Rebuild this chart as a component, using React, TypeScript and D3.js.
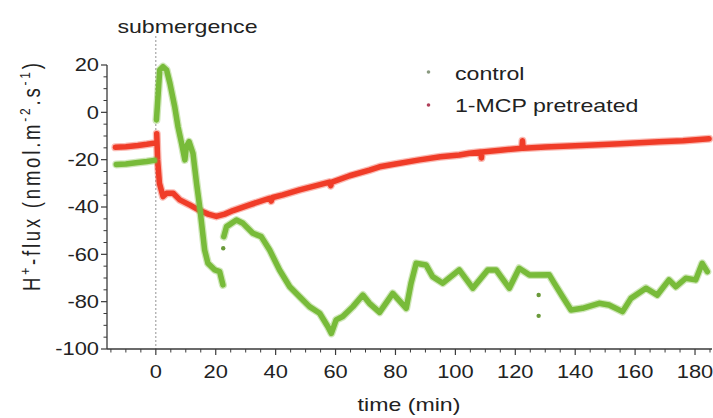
import React from "react";
import * as d3 from "d3";

// ---- data ----
const controlTime: number[] = [
  -13.2, -10, -6, -3, -0.5, NaN,
  0.2, 0.8, 1.3, 2.4, 3.6, 4.7, 6.3, 7.4, 8.6, 9.7, 10.2, 11.1, 12.4, 13.6, 14.7, 16.3, 17.4, 19.7, 21.3, 22.4, NaN,
  22.7, 23.6, 26.9, 29.1, 32.4, 35.2, 38, 41.3, 44.7, 48, 51.3, 54.7, 57.4, 58.6, 60.2, 62.4, 65.8, 69.1, 71.3, 74.7,
  79.1, 83.6, 85.2, 86.9, 90.2, 92.4, 95.8, 101.3, 105.8, 110.8, 113.6, 118, 121.3, 124.7, 131.3, 133, 135.8, 138.6,
  142.4, 148, 151.3, 155.8, 158.6, 163.6, 167.4, 171.3, 173.6, 176.9, 180.2, 182.4, 184.1,
];
const controlFlux: number[] = [
  -22, -21.8, -21.2, -20.8, -20.3, NaN,
  -3.2, 8, 17.9, 19.3, 17.9, 12.3, 2.4, -6.1, -13.1, -20.1, -14.5, -12.4, -17.3, -30, -40.5, -58.2, -63.8, -66.6, -67.3, -72.9, NaN,
  -52.5, -48.3, -45.5, -46.9, -51.1, -52.5, -58.2, -66.6, -73.7, -77.9, -82.1, -84.9, -90.5, -93.4, -87.7, -86.3, -82.1, -77.2, -80.7, -84.5,
  -76.5, -82.8, -72.2, -63.8, -64.5, -69.4, -72.2, -66.6, -74.3, -66.6, -66.6, -74.3, -65.9, -68.7, -68.6, -72.2, -77.9, -83.5,
  -82.8, -80.7, -81.4, -84.2, -78.6, -74.3, -77.2, -70.8, -73.7, -70.1, -70.8, -63.8, -67.3,
];
const controlOutlierTime: number[] = [22.5, 127.8, 127.8];
const controlOutlierFlux: number[] = [-57.4, -77.2, -86];

const mcpTime: number[] = [
  -13.5, -10, -6, -3, -0.5, NaN,
  0.3, 0.6, 1.2, 2.4, 3.6, 5.8, 8, 11.3, 14.7, 17.5, 20.2, 23, 25.8, 31.3, 38, 38.5, 39, 42.4, 48, 58, 58.4, 58.8,
  64.7, 71.3, 74.7, 80, 88, 95, 101.3, 104.7, 108.5, 108.7, 108.9, 115, 122.2, 122.4, 122.6, 130, 138, 145.8, 155,
  168, 176, 184.7,
];
const mcpFlux: number[] = [
  -14.8, -14.5, -14, -13.5, -13, NaN,
  -9, -20, -30, -35.6, -34.2, -34.2, -37, -39.1, -41.5, -43, -44, -43, -41.5, -39.1, -36.3, -37.5, -36, -34.9, -32.8, -29.5, -31, -29.5,
  -26.8, -24.4, -23, -21.8, -20.1, -18.8, -18, -17.3, -16.8, -19.3, -16.8, -16, -15.2, -12, -15.2, -14.6, -14.2, -13.8, -13.3,
  -12.4, -12, -11.2,
];

const xMajorTicks: number[] = [0, 20, 40, 60, 80, 100, 120, 140, 160, 180];
const yMajorTicks: number[] = [20, 0, -20, -40, -60, -80, -100];
const seriesNames: string[] = ["control", "1-MCP pretreated"];

const FONT = "'Liberation Sans', Arial, Helvetica, sans-serif";
const SX = 1.25;

export default function App() {
  const W = 713, H = 418;
  const x = d3.scaleLinear().domain([-16.3, 185]).range([107, 710]);
  const y = d3.scaleLinear().domain([-100, 20]).range([349, 65]);

  const mk = (ts: number[], vs: number[]) =>
    ts.map((t, i) => [t, vs[i]] as [number, number]);
  const line = d3
    .line<[number, number]>()
    .defined((d) => !isNaN(d[0]) && !isNaN(d[1]))
    .x((d) => x(d[0]))
    .y((d) => y(d[1]));

  const ctl = mk(controlTime, controlFlux);
  const mcp = mk(mcpTime, mcpFlux);
  const green = "#78bb3a";
  const red = "#f03c28";

  const xMinor = d3.range(-15, 186, 5).filter((v) => v % 20 !== 0);
  const yMinor = d3.range(-100, 21, 5).filter((v) => v % 20 !== 0);
  const axisColor = "#3a3a3a";
  const x0 = x.range()[0];
  const yBase = y(-100);

  const stretched = (tx: number, ty: number, anchor: string, size: number, text: React.ReactNode, key?: any) => (
    <g key={key} transform={`translate(${tx},${ty}) scale(${SX},1)`}>
      <text x={0} y={0} textAnchor={anchor as any} fontSize={size} fill="#222" fontFamily={FONT}>
        {text}
      </text>
    </g>
  );

  return (
    <svg width={W} height={H} style={{ position: "absolute", left: 0, top: 0, background: "#fff" }}>
      <rect width={W} height={H} fill="#fff" />
      {/* submergence marker */}
      <line x1={x(0)} x2={x(0)} y1={36} y2={yBase} stroke="#777" strokeWidth={0.8} strokeDasharray="2,2" />
      {stretched(187.5, 33, "middle", 18.5, "submergence")}

      {/* data */}
      <path d={line(mcp) || ""} fill="none" stroke={red} strokeOpacity={0.35} strokeWidth={8} strokeLinejoin="round" strokeLinecap="round" />
      <path d={line(mcp) || ""} fill="none" stroke={red} strokeWidth={5.5} strokeLinejoin="round" strokeLinecap="round" />
      <path d={line(ctl) || ""} fill="none" stroke={green} strokeOpacity={0.35} strokeWidth={8} strokeLinejoin="round" strokeLinecap="round" />
      <path d={line(ctl) || ""} fill="none" stroke={green} strokeWidth={5.5} strokeLinejoin="round" strokeLinecap="round" />
      {controlOutlierTime.map((t, i) => (
        <circle key={i} cx={x(t)} cy={y(controlOutlierFlux[i])} r={2.2} fill="#6a9a3a" />
      ))}

      {/* axes */}
      <line x1={x0} x2={x0} y1={y(20)} y2={yBase} stroke={axisColor} strokeWidth={1.3} />
      <line x1={x0} x2={x.range()[1] + 2} y1={yBase} y2={yBase} stroke={axisColor} strokeWidth={1.3} />
      {yMajorTicks.map((v) => (
        <g key={"ym" + v}>
          <line x1={x0 - 6} x2={x0} y1={y(v)} y2={y(v)} stroke={axisColor} strokeWidth={1.2} />
          {stretched(x0 - 8, y(v) + 6.3, "end", 17.5, String(v))}
        </g>
      ))}
      {yMinor.map((v) => (
        <line key={"yn" + v} x1={x0 - 3.5} x2={x0} y1={y(v)} y2={y(v)} stroke={axisColor} strokeWidth={1} />
      ))}
      {xMajorTicks.map((v) => (
        <g key={"xm" + v}>
          <line x1={x(v)} x2={x(v)} y1={yBase} y2={yBase + 6} stroke={axisColor} strokeWidth={1.2} />
          {stretched(x(v), yBase + 29, "middle", 17.5, String(v))}
        </g>
      ))}
      {xMinor.map((v) => (
        <line key={"xn" + v} x1={x(v)} x2={x(v)} y1={yBase} y2={yBase + 3.5} stroke={axisColor} strokeWidth={1} />
      ))}

      {/* axis titles */}
      {stretched(409, 411, "middle", 18.5, "time (min)")}
      <g transform={`translate(40,177) rotate(-90) scale(1,${SX})`}>
        <text x={0} y={0} textAnchor="middle" fontSize={18.5} fill="#222" fontFamily={FONT} textLength={228} lengthAdjust="spacing">
          H<tspan fontSize={12} dy={-8}>+</tspan>
          <tspan dy={8}>-flux (nmol.m</tspan>
          <tspan fontSize={12} dy={-8}>-2</tspan>
          <tspan dy={8}>.s</tspan>
          <tspan fontSize={12} dy={-8}>-1</tspan>
          <tspan dy={8}>)</tspan>
        </text>
      </g>

      {/* legend */}
      <circle cx={428.5} cy={72} r={1.8} fill="#8a9a80" />
      <circle cx={428.5} cy={105} r={1.8} fill="#b0405a" />
      {stretched(455, 80, "start", 18.5, seriesNames[0])}
      {stretched(455, 111.5, "start", 18.5, seriesNames[1])}
    </svg>
  );
}
